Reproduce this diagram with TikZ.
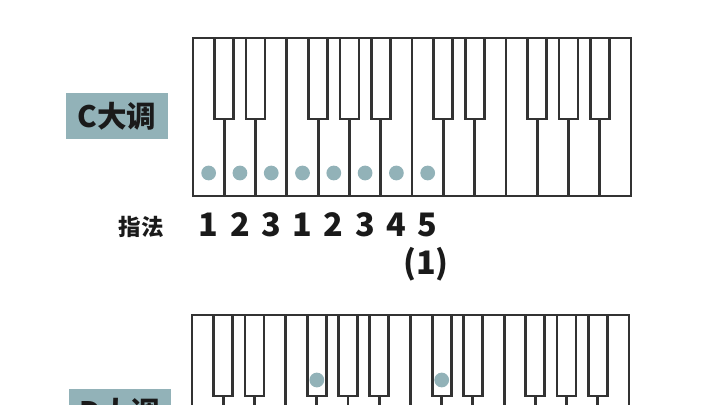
\documentclass[tikz,border=0pt]{standalone}
\usepackage{fontspec}
\setmainfont{Noto Sans CJK SC}
\usepackage{tikz}
\definecolor{KeyLine}{RGB}{51,51,51}
\definecolor{SageBlue}{RGB}{146,178,184}
\definecolor{InkDark}{RGB}{26,26,26}
\tikzset{
  keyline/.style  ={draw=KeyLine, line width=2pt},
  blackkey/.style ={draw=KeyLine, line width=2pt, fill=white},
  fingerdot/.style={circle, fill=SageBlue, minimum size=10.5pt, inner sep=0pt},
  keylabel/.style ={rectangle, fill=SageBlue, text=InkDark, font=\fontsize{21}{21}\selectfont\bfseries,
                    minimum width=2.55cm, minimum height=1.15cm, inner sep=0pt},
  fingertag/.style={text=InkDark, font=\fontsize{16}{16}\selectfont\bfseries, inner sep=0pt},
  fingernum/.style={text=InkDark, font=\fontsize{23}{23}\selectfont\bfseries, inner sep=0pt},
}

\begin{document}
\begin{tikzpicture}[x=0.025cm,y=-0.025cm]
  \useasboundingbox (0,0) rectangle (720,405);
  \clip (0,0) rectangle (720,405);

  % C major
  \node[keylabel] (cmaj) at (117,116) {C大调};
  \draw[keyline] (193,38) rectangle (631,196);
  \foreach \d in {3,7,10}{
    \draw[keyline] ({193+\d*31.29},38) -- ({193+\d*31.29},196);
  }
  \foreach \d in {1,2,4,5,6,8,9,11,12,13}{
    \draw[blackkey] ({193+\d*31.29-9.5},38) rectangle ({193+\d*31.29+9.5},119);
    \draw[keyline] ({193+\d*31.29},119) -- ({193+\d*31.29},196);
  }
  \foreach \i in {1,...,8}{
    \node[fingerdot] (cd\i) at ({193+(\i-0.5)*31.29},173) {};
  }

  \node[fingertag] (fz) at (141,227) {指法};
  \foreach \i/\n in {1/1,2/2,3/3,4/1,5/2,6/3,7/4,8/5}{
    \node[fingernum] (cf\i) at ({193+(\i-0.5)*31.29},225) {\n};
  }
  \node[fingernum] (alt) at (426,264) {(1)};

  % D major
  \node[keylabel] (dmaj) at (120,412) {D大调};
  \draw[keyline] (192,315) rectangle (629,473);
  \foreach \d in {3,7,10}{
    \draw[keyline] ({192+\d*31.21},315) -- ({192+\d*31.21},473);
  }
  \foreach \d in {1,2,4,5,6,8,9,11,12,13}{
    \draw[blackkey] ({192+\d*31.21-9.5},315) rectangle ({192+\d*31.21+9.5},396);
    \draw[keyline] ({192+\d*31.21},396) -- ({192+\d*31.21},473);
  }
  \node[fingerdot] (fs) at ({192+4*31.21},380) {};
  \node[fingerdot] (cs) at ({192+8*31.21},380) {};
\end{tikzpicture}
\end{document}
